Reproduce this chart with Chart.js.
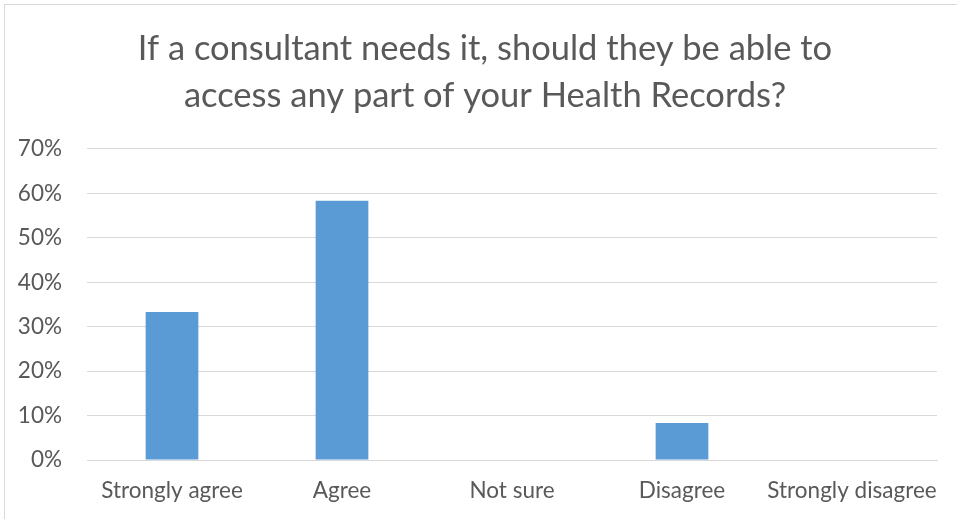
<!DOCTYPE html>
<html>
<head>
<meta charset="utf-8">
<script src="https://cdn.jsdelivr.net/npm/chart.js@4"></script>
<style>
  html, body { margin: 0; padding: 0; background: #fff; }
  #wrap { position: relative; width: 957px; height: 519px; overflow: hidden; }
  #frame { position: absolute; left: 4px; top: 4px; width: 970px; height: 530px; border: 1px solid #d9d9d9; }
  canvas { position: absolute; left: 0; top: 0; }
</style>
</head>
<body>
<div id="wrap">
  <div id="frame"></div>
  <canvas id="chart" width="957" height="519"></canvas>
</div>
<script>
const categories = ['Strongly agree', 'Agree', 'Not sure', 'Disagree', 'Strongly disagree']
const shares = [0.3333, 0.5833, 0, 0.0833, 0]
const titleLines = ['If a consultant needs it, should they be able to', 'access any part of your Health Records?']

const textColor = '#595959'
const fontFamily = 'Lato, "Open Sans", sans-serif'

// title in the original is centred a bit right of the canvas middle
const shiftTitle = {
  id: 'shiftTitle',
  afterLayout(chart) {
    if (chart.titleBlock) chart.titleBlock.left += 33
  }
}

const ctx = document.getElementById('chart').getContext('2d')

new Chart(ctx, {
  type: 'bar',
  data: {
    labels: categories,
    datasets: [{
      data: shares,
      backgroundColor: '#5b9bd5',
      borderWidth: 0,
      barPercentage: 0.31,
      categoryPercentage: 1
    }]
  },
  plugins: [shiftTitle],
  options: {
    responsive: false,
    animation: false,
    layout: { padding: { left: 0, right: 20, top: 0, bottom: 0 } },
    plugins: {
      legend: { display: false },
      tooltip: { enabled: false },
      title: {
        display: true,
        text: titleLines,
        color: textColor,
        font: { family: fontFamily, size: 34.5, weight: 'normal', lineHeight: 1.362 },
        padding: { top: 25, bottom: 30 }
      }
    },
    scales: {
      x: {
        afterFit: scale => { scale.height = 59 },
        grid: { display: false, drawTicks: false },
        border: { display: true, color: '#d9d9d9', width: 1 },
        ticks: {
          color: textColor,
          font: { family: fontFamily, size: 22.5 },
          padding: 17,
          maxRotation: 0,
          autoSkip: false
        }
      },
      y: {
        min: 0,
        max: 0.7,
        afterFit: scale => { scale.width = 87 },
        grid: { color: '#d9d9d9', drawTicks: false },
        border: { display: false },
        ticks: {
          stepSize: 0.1,
          color: textColor,
          font: { family: fontFamily, size: 22.5 },
          padding: 25,
          callback: v => Math.round(v * 100) + '%'
        }
      }
    }
  }
})
</script>
</body>
</html>
